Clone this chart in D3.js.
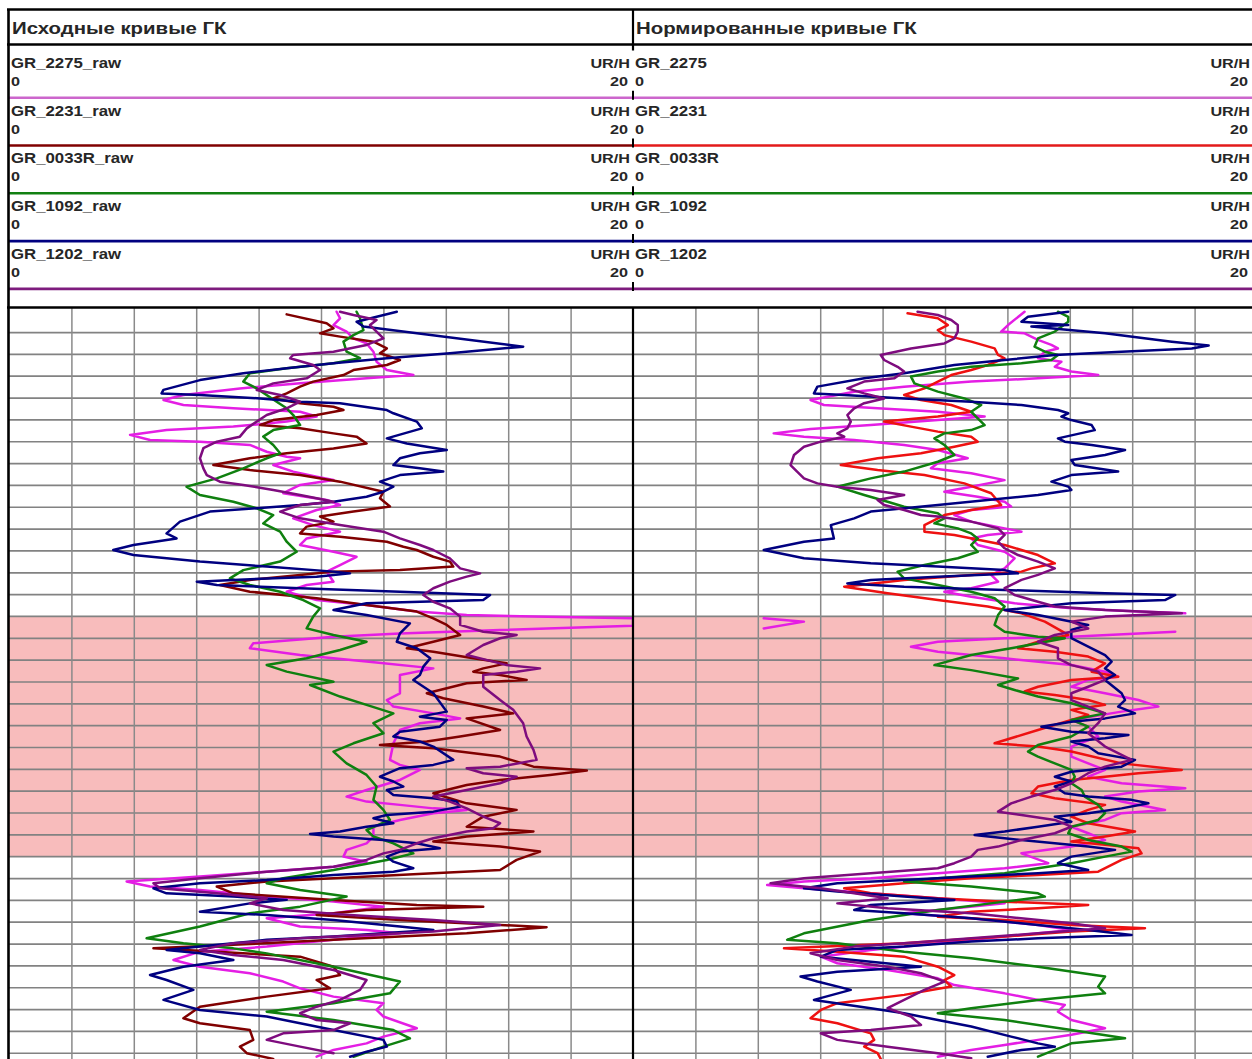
<!DOCTYPE html>
<html>
<head>
<meta charset="utf-8">
<script src="https://cdn.jsdelivr.net/npm/d3@7"></script>
<style>
  html, body { margin: 0; padding: 0; background: #fff; overflow: hidden; }
  svg { display: block; }
</style>
</head>
<body>
<svg id="chart" width="1252" height="1059"></svg>
<script>
// ---- Track titles, curve names, scales ----
const trackTitles = ["Исходные кривые ГК", "Нормированные кривые ГК"];
const rawCurveNames = ["GR_2275_raw", "GR_2231_raw", "GR_0033R_raw", "GR_1092_raw", "GR_1202_raw"];
const normCurveNames = ["GR_2275", "GR_2231", "GR_0033R", "GR_1092", "GR_1202"];
const curveUnit = "UR/H";
const scaleMin = 0;
const scaleMax = 20;
const scaleLabels = ["0", "20"];
const gridStep = 2;
const depthTop = 0;
const depthBottom = 34.3;
const depthStep = 1;
// highlighted interval (depth, m)
const zoneTop = 14;
const zoneBottom = 25;

// ---- Raw gamma-ray curves: [depth, value] ----
const gr2275Raw = [[0.07,10.5],[0.37,10.61],[0.68,10.4],[0.98,10.82],[1.29,11.04],[1.52,11.46],[1.9,11.68],[2.36,11.78],[2.74,12.11],[2.97,12.96],[3.12,11.46],[3.35,9.33],[3.58,7.4],[3.88,5.59],[4.11,4.95],[4.34,5.59],[4.49,7.19],[4.65,9.33],[4.87,9.86],[5.1,8.9],[5.33,7.19],[5.49,5.05],[5.71,3.88],[5.94,4.52],[6.02,6.12],[6.17,7.72],[6.48,8.26],[6.71,8.9],[6.78,9.33],[7.09,8.47],[7.39,9.11],[7.62,9.86],[7.77,10.4],[8.0,9.33],[8.38,8.79],[8.69,10.18],[8.92,10.61],[9.15,9.86],[9.53,9.11],[9.84,9.75],[10.14,10.61],[10.45,9.54],[10.75,9.33],[11.06,10.4],[11.29,11.14],[11.67,10.61],[11.97,10.18],[12.43,10.4],[12.58,9.54],[12.89,8.9],[13.27,9.86],[13.5,11.46],[13.8,13.07],[13.96,14.67],[14.03,16.81],[14.11,20],[14.3,20],[14.45,20],[14.64,15.74],[14.8,12.53],[14.95,10.4],[15.25,7.83],[15.48,7.72],[15.79,9.33],[16.09,11.46],[16.4,13.6],[16.7,12.53],[17.54,12.53],[17.85,12.11],[18.15,12.32],[18.46,13.6],[18.69,14.46],[18.91,13.17],[19.22,12.53],[19.83,12.32],[20.59,12.21],[20.82,12.53],[21.05,13.17],[21.51,12.53],[21.97,11.46],[22.27,10.82],[22.5,11.46],[22.65,12.53],[22.81,13.6],[22.88,14.67],[23.03,13.6],[23.34,12.53],[23.65,11.68],[24.1,11.68],[24.41,11.46],[24.71,10.82],[25.02,10.72],[25.25,11.46],[25.48,10.4],[25.71,8.26],[25.93,6.12],[26.16,3.77],[26.39,4.52],[26.55,6.12],[26.85,8.26],[27.08,10.4],[27.31,12.0],[27.61,10.4],[27.84,8.26],[28.22,9.33],[28.38,11.46],[28.53,12.53],[28.83,10.4],[29.14,8.26],[29.37,6.12],[29.75,5.27],[30.06,6.12],[30.36,7.72],[30.74,8.79],[31.05,9.33],[31.43,10.4],[31.73,12.0],[32.04,11.78],[32.34,12.0],[32.88,13.07],[33.26,12.0],[33.57,11.46],[33.87,10.4],[34.18,9.86]];

const gr2231Raw = [[0.19,8.9],[0.6,10.18],[0.83,10.4],[1.06,9.97],[1.21,10.61],[1.44,11.68],[1.75,12.11],[1.97,11.89],[2.28,12.53],[2.51,12.11],[2.74,11.04],[2.97,10.72],[3.27,9.75],[3.5,9.33],[3.81,8.9],[4.04,8.47],[4.26,9.33],[4.42,10.4],[4.57,10.72],[4.8,9.86],[5.03,8.47],[5.26,8.05],[5.41,9.33],[5.64,10.4],[5.79,11.14],[6.1,11.46],[6.33,10.4],[6.55,8.9],[6.78,7.72],[7.09,6.55],[7.32,7.72],[7.55,9.33],[7.85,10.61],[8.31,12.0],[8.61,11.89],[8.99,12.21],[9.22,11.04],[9.45,9.97],[9.68,10.4],[9.91,9.54],[10.22,9.33],[10.37,10.61],[10.6,12.11],[10.83,12.64],[10.98,13.07],[11.29,13.6],[11.51,14.13],[11.74,14.24],[11.9,12.53],[11.97,10.4],[12.12,9.33],[12.35,7.72],[12.58,6.76],[12.89,7.72],[13.19,9.86],[13.5,11.46],[13.8,13.07],[14.11,13.6],[14.41,14.03],[14.87,14.46],[15.18,13.6],[15.48,12.75],[15.64,13.6],[15.94,14.88],[16.17,15.95],[16.4,15.2],[16.55,14.88],[16.7,15.74],[16.93,16.59],[17.08,14.67],[17.54,13.39],[17.77,13.92],[18.15,15.2],[18.46,16.16],[18.69,14.67],[19.22,15.74],[19.52,14.46],[19.75,13.39],[19.91,11.89],[20.06,13.6],[20.44,15.74],[20.9,16.81],[21.08,18.52],[21.28,17.34],[21.51,15.74],[21.74,14.67],[22.12,13.6],[22.58,14.67],[22.88,16.27],[23.19,15.2],[23.65,14.67],[23.87,16.81],[24.1,14.67],[24.33,13.6],[24.56,15.74],[24.79,17.02],[25.17,16.27],[25.63,15.74],[25.78,13.6],[26.01,10.4],[26.16,8.26],[26.39,6.66],[26.7,7.19],[27.0,10.4],[27.23,13.07],[27.31,15.2],[27.46,11.46],[27.69,9.86],[27.92,12.53],[28.15,15.74],[28.25,17.23],[28.53,14.67],[28.83,10.4],[29.06,7.19],[29.22,4.63],[29.37,6.66],[29.6,9.33],[30.06,10.4],[30.44,10.61],[30.67,9.86],[31.05,10.29],[31.43,8.26],[31.89,6.12],[32.42,5.59],[32.65,6.12],[32.96,7.72],[33.41,7.83],[33.72,7.4],[34.02,7.62],[34.28,8.47]];

const gr0033RRaw = [[0.07,11.14],[0.37,11.25],[0.91,11.36],[1.14,11.04],[1.44,10.72],[1.9,10.82],[2.2,11.25],[2.43,10.4],[2.66,8.9],[2.89,7.72],[3.27,7.51],[3.58,7.94],[4.19,8.58],[4.49,8.9],[4.8,9.11],[5.26,9.33],[5.49,8.47],[5.79,8.15],[6.17,8.47],[6.55,8.69],[6.78,8.26],[7.24,7.51],[7.7,6.66],[8.08,5.69],[8.46,6.12],[8.77,7.19],[9.07,7.94],[9.38,8.47],[9.76,8.15],[10.14,8.69],[10.6,8.9],[11.06,9.22],[11.51,8.69],[11.9,7.51],[12.28,7.08],[12.58,7.72],[12.89,8.69],[13.27,9.43],[13.65,9.97],[14.03,9.75],[14.57,9.54],[14.87,10.4],[15.18,11.46],[15.56,10.61],[15.94,9.54],[16.25,8.26],[16.55,8.9],[17.01,10.4],[17.16,9.65],[17.69,10.61],[18.07,11.46],[18.46,12.32],[18.91,11.68],[19.37,12.0],[19.83,11.04],[20.21,10.4],[20.75,10.82],[21.28,11.46],[21.81,11.78],[22.42,11.68],[22.88,12.0],[23.34,12.21],[23.8,11.46],[24.1,11.68],[24.41,12.32],[24.87,12.96],[25.17,12.11],[25.63,10.4],[26.01,8.79],[26.24,8.26],[26.55,9.33],[26.85,10.82],[27.31,9.33],[27.61,7.72],[28.22,6.12],[28.76,4.41],[28.99,5.59],[29.22,7.19],[29.45,8.26],[30.06,10.4],[30.74,12.53],[31.28,12.21],[31.73,10.4],[32.12,8.26],[32.5,10.4],[32.96,12.32],[33.34,12.85],[33.72,12.0],[34.18,11.04]];

const gr1092Raw = [[0.07,12.43],[0.53,11.14],[0.75,11.36],[1.67,16.48],[1.97,14.13],[2.2,12.11],[2.43,10.4],[2.66,8.9],[2.89,7.51],[3.2,6.12],[3.65,4.95],[3.81,4.89],[3.88,6.12],[4.04,8.05],[4.19,9.33],[4.26,10.61],[4.57,12.11],[4.72,12.32],[5.1,13.07],[5.41,13.23],[5.87,12.11],[6.1,12.75],[6.4,14.03],[6.55,13.17],[6.78,12.53],[7.09,12.32],[7.24,13.17],[7.39,13.92],[7.55,12.53],[7.85,11.89],[8.08,12.32],[8.31,12.0],[8.54,11.46],[8.77,10.4],[8.92,9.33],[9.07,7.94],[9.22,6.44],[9.68,5.48],[10.22,5.05],[10.45,5.37],[10.75,3.99],[10.98,3.34],[11.21,3.99],[11.51,6.12],[11.74,8.26],[11.97,10.4],[12.05,10.93],[12.2,9.86],[12.35,7.19],[12.43,6.02],[12.58,6.66],[12.73,9.33],[12.89,12.53],[13.04,15.42],[13.27,15.2],[13.42,11.46],[13.73,10.4],[13.96,11.46],[14.34,12.85],[14.8,12.53],[15.18,12.43],[15.48,13.07],[15.94,13.5],[16.32,13.28],[16.7,13.17],[16.93,12.96],[17.54,13.6],[18.38,14.03],[18.61,13.17],[18.76,14.03],[19.07,13.81],[19.3,12.53],[19.52,12.32],[19.75,13.17],[19.98,13.6],[20.59,14.24],[20.82,13.6],[20.97,12.53],[21.36,11.89],[21.58,12.32],[21.81,12.64],[21.97,12.11],[22.2,12.32],[22.35,13.6],[22.5,14.35],[22.73,14.46],[22.96,13.6],[23.11,12.11],[23.26,11.68],[23.49,12.32],[23.65,11.46],[23.87,10.61],[23.98,9.65],[24.1,10.4],[24.26,12.0],[24.41,13.07],[24.64,13.81],[24.79,12.53],[25.02,12.11],[25.25,12.32],[25.55,12.96],[25.71,12.32],[25.86,10.4],[26.09,8.26],[26.24,6.12],[26.47,4.63],[26.7,5.05],[26.85,7.19],[27.0,8.9],[27.16,7.72],[27.54,6.12],[27.69,8.26],[27.92,10.4],[28.22,12.53],[28.38,13.6],[28.68,10.4],[28.83,8.26],[29.14,6.12],[29.29,5.05],[29.44,6.12],[29.75,7.19],[30.06,5.59],[30.44,4.52],[30.67,5.05],[31.12,5.91],[31.58,4.95],[32.04,6.12],[32.34,8.26],[32.65,9.33],[32.96,10.4],[33.41,12.0],[33.72,12.11],[33.95,11.46],[34.18,10.93]];

const gr1202Raw = [[0.07,10.61],[0.22,11.04],[0.45,11.78],[0.68,11.57],[0.98,11.78],[1.29,12.0],[1.59,11.46],[1.9,10.4],[2.05,9.11],[2.2,9.01],[2.51,9.75],[2.74,9.97],[3.12,9.54],[3.35,8.47],[3.65,7.94],[3.88,8.69],[4.19,9.33],[4.49,8.9],[4.8,8.26],[5.1,7.94],[5.41,7.62],[5.79,7.4],[6.02,6.66],[6.32,6.23],[6.78,6.12],[7.24,6.23],[7.55,6.34],[7.85,6.76],[8.0,7.51],[8.23,8.47],[8.46,9.33],[8.61,9.86],[8.77,10.4],[8.92,9.33],[9.22,8.69],[9.53,9.33],[9.84,10.61],[10.14,12.0],[10.45,12.53],[10.75,13.17],[10.98,13.6],[11.36,14.13],[11.82,14.46],[12.05,15.1],[12.2,14.67],[12.43,14.13],[12.73,13.6],[13.04,13.28],[13.35,13.6],[13.65,14.13],[14.03,14.46],[14.41,14.46],[14.72,15.2],[14.87,16.27],[15.02,15.74],[15.33,15.2],[15.79,14.67],[16.09,15.52],[16.25,15.95],[16.4,17.02],[16.55,16.27],[16.7,15.2],[17.24,15.2],[17.85,15.74],[18.3,16.16],[18.91,16.48],[19.52,16.59],[20.13,16.81],[20.59,16.91],[20.9,15.74],[20.97,14.67],[21.2,15.2],[21.36,16.27],[21.66,15.74],[21.97,14.67],[22.27,13.6],[22.5,14.13],[22.81,14.67],[23.19,15.2],[23.49,15.74],[23.72,15.52],[23.87,14.67],[24.18,13.6],[24.41,13.07],[24.71,12.53],[24.87,12.0],[25.17,11.46],[25.48,10.4],[25.71,8.26],[26.01,6.12],[26.24,4.63],[26.47,4.84],[26.7,6.66],[26.93,8.26],[27.16,7.72],[27.46,8.79],[27.69,10.93],[27.92,13.6],[28.15,15.74],[28.45,13.6],[28.61,11.46],[28.76,9.33],[28.99,7.19],[29.29,6.12],[29.52,7.19],[29.75,8.79],[30.21,10.4],[30.67,11.46],[31.12,11.25],[31.58,10.61],[31.89,9.86],[32.19,9.33],[32.5,9.86],[32.65,10.93],[32.96,10.4],[33.11,8.79],[33.41,8.26],[33.72,9.33],[34.02,10.4]];

// ---- Normalized gamma-ray curves: [depth, value] ----
const gr2275Norm = [[0.07,12.55],[0.68,12.02],[0.98,11.8],[1.06,12.55],[1.36,12.98],[1.59,13.41],[1.75,13.62],[1.9,13.2],[2.2,12.98],[2.36,13.73],[2.59,13.52],[2.81,14.05],[2.97,14.91],[3.12,12.98],[3.27,10.84],[3.5,8.69],[3.73,7.09],[4.11,5.69],[4.34,6.12],[4.49,7.84],[4.65,9.77],[4.87,11.27],[5.03,9.77],[5.26,7.62],[5.44,5.69],[5.64,4.51],[5.79,5.48],[5.94,7.09],[6.17,8.69],[6.4,9.77],[6.78,10.73],[7.01,9.77],[7.24,9.55],[7.47,10.84],[7.78,11.91],[8.08,10.84],[8.31,9.98],[8.54,11.05],[8.77,11.91],[8.99,12.12],[9.15,10.84],[9.38,10.3],[9.68,10.84],[9.99,11.91],[10.14,12.45],[10.29,11.37],[10.45,10.84],[10.75,11.05],[11.06,11.91],[11.36,12.23],[11.82,11.91],[12.12,11.48],[12.43,11.7],[12.73,10.84],[12.89,9.98],[13.12,10.84],[13.42,12.23],[13.65,14.05],[13.8,16.2],[13.88,17.7],[14.11,24.19],[14.26,25.48],[14.57,24.19],[14.72,17.38],[14.95,14.05],[15.02,11.91],[15.18,9.77],[15.41,8.91],[15.64,9.77],[15.94,11.91],[16.25,14.05],[16.55,15.13],[16.78,15.55],[16.93,14.59],[17.24,14.05],[17.54,15.13],[17.85,16.2],[18.15,16.84],[18.38,15.66],[18.76,14.05],[19.07,14.59],[19.52,14.91],[19.98,14.05],[20.44,14.05],[20.75,14.59],[21.05,15.13],[21.36,14.59],[21.66,15.66],[21.89,17.7],[22.04,16.2],[22.27,15.13],[22.5,15.66],[22.88,17.05],[23.03,15.66],[23.34,15.13],[23.65,14.05],[23.95,14.59],[24.26,15.13],[24.56,14.05],[24.87,12.45],[25.32,13.31],[25.55,11.91],[25.78,9.77],[26.01,7.62],[26.16,5.48],[26.32,4.3],[26.47,5.48],[26.7,7.62],[26.93,9.77],[27.16,11.91],[27.46,9.77],[27.61,8.69],[27.84,10.84],[28.15,12.98],[28.38,14.05],[28.68,11.91],[28.99,9.77],[29.29,7.62],[29.6,6.02],[29.9,6.55],[30.21,8.16],[30.59,9.77],[30.9,10.3],[31.28,11.91],[31.58,12.98],[31.81,13.84],[32.12,13.62],[32.5,14.05],[32.88,15.13],[33.18,14.05],[33.41,12.98],[33.64,11.91],[33.87,10.84],[34.18,9.77]];

const gr2231Norm = [[0.14,8.8],[0.37,9.77],[0.68,10.09],[0.91,9.77],[1.14,9.98],[1.44,10.84],[1.75,11.59],[2.05,11.7],[2.2,11.91],[2.51,11.37],[2.74,10.84],[2.97,10.2],[3.27,9.77],[3.58,9.34],[3.88,8.69],[4.11,9.23],[4.34,10.2],[4.65,10.84],[4.87,9.77],[5.1,8.05],[5.33,8.91],[5.56,9.77],[5.79,10.84],[6.02,11.05],[6.25,10.3],[6.55,9.23],[6.78,7.84],[7.09,6.66],[7.32,7.84],[7.55,9.34],[7.93,10.62],[8.38,11.48],[8.92,11.8],[9.15,10.84],[9.38,9.98],[9.84,9.34],[10.14,9.34],[10.29,10.3],[10.75,11.91],[11.21,12.98],[11.59,13.52],[11.82,12.77],[11.97,12.45],[12.12,10.84],[12.35,8.69],[12.66,6.77],[12.96,8.16],[13.27,9.77],[13.57,11.37],[13.88,12.45],[14.26,13.2],[14.87,13.95],[15.18,12.98],[15.48,12.34],[15.64,13.52],[15.86,14.59],[16.17,15.13],[16.55,14.7],[16.78,15.55],[16.93,14.05],[17.24,12.98],[17.46,12.55],[17.62,13.52],[17.85,14.59],[18.07,15.13],[18.3,14.05],[18.53,14.59],[18.76,14.05],[19.22,12.98],[19.83,11.59],[19.98,12.98],[20.21,14.05],[20.75,15.66],[21.05,17.59],[21.2,16.2],[21.36,15.13],[21.51,14.05],[21.81,12.98],[22.12,12.77],[22.35,13.52],[22.65,15.13],[22.88,14.59],[23.19,14.05],[23.49,14.59],[23.87,16.09],[24.1,15.13],[24.33,14.05],[24.48,15.13],[24.64,16.2],[24.87,16.3],[25.17,15.66],[25.71,14.91],[25.86,12.98],[26.01,10.84],[26.24,8.69],[26.47,6.77],[26.7,7.62],[26.93,9.77],[27.08,11.91],[27.23,14.59],[27.38,12.98],[27.54,10.84],[27.77,9.77],[27.92,11.91],[28.15,14.05],[28.3,16.41],[28.45,14.05],[28.68,11.91],[28.99,8.69],[29.22,4.84],[29.37,6.55],[29.6,8.69],[30.06,9.77],[30.44,10.3],[30.67,9.98],[30.97,10.2],[31.35,8.69],[31.73,6.55],[32.04,6.02],[32.42,5.69],[32.65,6.55],[33.11,7.62],[33.41,7.73],[33.72,7.41],[34.02,7.84],[34.28,7.94]];

const gr0033RNorm = [[0.07,13.62],[0.3,13.95],[0.53,13.95],[0.98,13.52],[1.29,12.98],[1.67,12.87],[1.9,13.2],[2.05,13.62],[2.28,13.41],[2.43,12.45],[2.59,10.84],[2.81,9.77],[3.04,8.91],[3.35,9.02],[3.73,9.77],[4.04,10.62],[4.34,11.16],[4.65,10.84],[4.95,11.05],[5.26,11.27],[5.49,10.84],[5.64,9.98],[5.87,9.66],[6.17,9.98],[6.63,10.3],[6.94,9.77],[7.39,8.69],[7.7,7.62],[8.08,6.55],[8.46,7.41],[8.77,8.16],[9.0,8.69],[9.3,9.77],[9.53,9.98],[9.76,9.66],[9.99,10.41],[10.22,10.84],[10.45,11.05],[10.75,10.84],[11.06,11.05],[11.36,10.41],[11.67,9.34],[11.97,8.48],[12.28,8.69],[12.58,9.77],[12.89,10.84],[13.19,11.59],[13.57,11.91],[13.96,11.7],[14.41,11.59],[14.72,11.91],[14.95,12.98],[15.02,13.84],[15.25,12.98],[15.48,12.12],[15.79,10.84],[16.25,9.66],[16.48,10.84],[16.86,12.34],[17.16,11.7],[17.39,12.23],[17.69,12.98],[18.0,14.05],[18.46,15.13],[18.76,14.05],[19.07,14.59],[19.52,14.05],[19.91,12.98],[20.21,12.66],[20.44,12.98],[20.75,13.52],[21.05,14.05],[21.36,14.16],[21.66,14.05],[21.97,14.38],[22.27,14.48],[22.65,14.91],[23.03,15.13],[23.34,14.91],[23.65,14.05],[23.95,13.95],[24.26,14.59],[24.56,15.66],[24.79,15.98],[25.02,15.13],[25.32,14.05],[25.55,12.98],[25.78,11.91],[26.01,9.77],[26.16,8.69],[26.39,10.84],[26.7,12.98],[26.85,13.2],[27.08,11.91],[27.46,9.77],[27.92,7.62],[28.53,5.48],[28.83,4.94],[28.99,6.55],[29.37,8.69],[29.67,10.84],[30.06,12.98],[30.51,15.13],[30.97,14.91],[31.28,15.13],[31.58,12.98],[31.96,10.84],[32.19,9.77],[32.5,11.91],[32.96,14.05],[33.34,15.77],[33.57,14.05],[33.87,13.52],[34.18,12.98]];

const gr1092Norm = [[0.07,13.95],[0.3,12.66],[0.53,12.45],[0.68,13.95],[0.75,12.77],[1.06,15.13],[1.44,17.27],[1.62,18.45],[1.75,17.91],[1.9,15.66],[2.05,13.52],[2.28,11.91],[2.51,10.3],[2.89,8.69],[3.12,7.41],[3.5,5.91],[3.81,5.8],[3.88,6.77],[4.04,8.69],[4.19,10.84],[4.34,12.45],[4.57,13.62],[4.72,13.95],[4.87,13.73],[5.03,14.05],[5.26,14.7],[5.49,14.8],[5.87,13.62],[6.02,13.84],[6.17,14.7],[6.4,15.77],[6.63,15.13],[6.86,14.05],[7.09,14.16],[7.39,15.55],[7.55,14.05],[7.85,13.41],[8.08,13.95],[8.23,14.05],[8.46,12.98],[8.69,11.37],[8.92,9.77],[9.22,7.62],[9.53,7.09],[9.84,6.34],[10.45,6.44],[10.6,5.48],[10.98,4.19],[11.36,5.48],[11.59,7.62],[11.74,9.77],[11.9,11.91],[12.05,12.34],[12.2,9.77],[12.35,7.62],[12.51,6.87],[12.66,8.69],[12.81,11.91],[12.96,15.13],[13.04,17.38],[13.27,17.05],[13.42,14.05],[13.73,11.91],[13.96,12.98],[14.41,14.59],[14.64,14.05],[15.02,14.05],[15.79,15.13],[16.09,15.34],[16.4,15.13],[16.7,15.45],[16.93,15.13],[17.54,15.66],[17.85,15.77],[18.15,15.55],[18.46,16.09],[18.69,15.13],[18.84,14.05],[19.07,13.09],[19.3,14.05],[19.45,15.88],[19.6,15.13],[19.75,14.05],[19.98,14.59],[20.29,14.91],[20.59,16.09],[20.9,15.66],[21.13,14.05],[21.36,13.52],[21.58,14.05],[21.81,13.52],[22.12,13.84],[22.27,14.59],[22.42,15.98],[22.58,16.52],[22.81,15.66],[23.03,14.59],[23.19,13.52],[23.42,14.05],[23.65,12.98],[23.87,11.91],[24.03,10.95],[24.18,11.91],[24.41,13.52],[24.56,14.59],[24.71,15.45],[25.02,14.05],[25.32,13.62],[25.63,14.59],[25.78,12.98],[25.93,10.84],[26.09,8.69],[26.24,6.55],[26.47,5.48],[26.62,6.55],[26.85,8.69],[27.0,10.3],[27.23,7.62],[27.46,7.09],[27.61,8.69],[27.84,10.84],[28.15,12.98],[28.38,14.59],[28.61,15.98],[28.76,12.98],[28.91,10.84],[29.14,8.69],[29.29,6.55],[29.6,6.02],[29.83,7.62],[30.06,9.23],[30.29,6.55],[30.51,5.37],[30.74,5.91],[31.12,6.98],[31.58,5.8],[31.96,7.62],[32.19,8.69],[32.5,9.77],[32.8,10.84],[33.26,12.12],[33.57,12.98],[33.72,13.52],[33.87,12.45],[34.18,11.37]];

const gr1202Norm = [[0.07,9.12],[0.22,9.77],[0.45,10.2],[0.68,10.41],[0.98,10.41],[1.29,10.3],[1.52,9.98],[1.75,8.91],[2.05,7.94],[2.28,8.05],[2.59,8.48],[2.81,8.69],[3.12,8.37],[3.27,7.41],[3.58,6.87],[3.81,7.41],[4.04,8.05],[4.26,7.41],[4.49,7.09],[4.8,6.87],[5.1,6.98],[5.41,6.87],[5.64,6.55],[5.79,6.77],[6.02,6.02],[6.25,5.48],[6.63,5.16],[7.09,5.05],[7.39,5.26],[7.7,5.48],[7.93,5.91],[8.08,6.55],[8.23,7.62],[8.46,8.69],[8.69,7.84],[8.92,8.05],[9.15,8.69],[9.38,9.23],[9.45,9.77],[9.68,10.84],[9.99,11.7],[10.29,11.91],[10.6,11.7],[10.9,11.91],[11.21,12.34],[11.51,12.98],[11.82,13.52],[12.12,12.98],[12.35,12.45],[12.73,11.91],[13.04,12.23],[13.35,12.98],[13.57,13.52],[13.73,15.13],[13.88,17.59],[14.03,15.13],[14.26,14.05],[14.57,14.59],[14.87,13.52],[15.18,12.98],[15.48,13.62],[15.94,13.62],[16.25,14.05],[16.55,14.91],[16.93,15.13],[17.24,14.59],[17.54,14.05],[17.85,14.05],[18.15,14.59],[18.46,15.13],[18.91,14.91],[19.37,14.59],[19.98,15.13],[20.59,15.98],[20.9,15.13],[21.2,14.59],[21.66,14.05],[21.97,13.52],[22.27,12.77],[22.58,12.12],[22.96,11.7],[23.11,12.45],[23.34,13.52],[23.65,14.05],[23.95,13.52],[24.26,12.45],[24.56,11.7],[24.71,11.05],[25.02,10.84],[25.32,10.3],[25.55,9.77],[25.78,7.62],[26.01,5.48],[26.24,4.41],[26.47,6.02],[26.7,7.09],[26.93,8.16],[27.16,6.55],[27.38,8.16],[27.61,10.84],[28.07,14.05],[28.3,15.13],[28.53,12.98],[28.76,10.84],[28.99,8.69],[29.14,7.09],[29.44,5.69],[29.75,6.55],[30.06,8.16],[30.36,9.23],[30.74,9.98],[31.12,9.34],[31.58,8.69],[31.96,8.16],[32.34,8.91],[32.73,9.23],[32.96,7.62],[33.11,6.02],[33.41,6.55],[33.72,8.16],[34.02,9.77],[34.25,10.84]];

// ---- Styling ----
const rawColors  = ["#e41ee4", "#800000", "#0f800f", "#000080", "#7e0c7e"];
const normColors = ["#e41ee4", "#ee1111", "#0f800f", "#000080", "#7e0c7e"];
const rawHeaderColors  = ["#cc66cc", "#800000", "#128012", "#000080", "#7e1c7e"];
const normHeaderColors = ["#cc66cc", "#e31a1a", "#128012", "#000080", "#7e1c7e"];

const W = 1252, H = 1059;
const FONT = "Arial, 'Liberation Sans', Helvetica, sans-serif";
const TEXT_STRETCH = 1.2;
const TEXT_COLOR = "#262626";

const frameLeft = 9;
const trackWidth = 624;
const frameTop = 9;
const titleBottom = 44.5;
const firstHeaderLine = 97.7;
const headerRowH = 47.8;
const bodyTop = 307.5;
const gridTop = 310.2;
const rowPx = 21.84;

const svg = d3.select("#chart");
svg.append("rect").attr("width", W).attr("height", H).attr("fill", "#fff");

const y = d3.scaleLinear()
  .domain([depthTop, depthBottom])
  .range([gridTop, gridTop + rowPx * (depthBottom - depthTop)]);

const tracks = [
  { x0: frameLeft, title: trackTitles[0], names: rawCurveNames,
    curves: [gr2275Raw, gr2231Raw, gr0033RRaw, gr1092Raw, gr1202Raw],
    colors: rawColors, headerColors: rawHeaderColors },
  { x0: frameLeft + trackWidth, title: trackTitles[1], names: normCurveNames,
    curves: [gr2275Norm, gr2231Norm, gr0033RNorm, gr1092Norm, gr1202Norm],
    colors: normColors, headerColors: normHeaderColors }
];
tracks.forEach(t => {
  t.x = d3.scaleLinear().domain([scaleMin, scaleMax]).range([t.x0, t.x0 + trackWidth]);
});

// stretched bold header text
function label(g, str, x, yb, size, anchor) {
  g.append("text")
    .attr("transform", `translate(${x},${yb}) scale(${TEXT_STRETCH},1)`)
    .attr("text-anchor", anchor || "start")
    .attr("font-family", FONT)
    .attr("font-weight", "bold")
    .attr("font-size", size)
    .attr("fill", TEXT_COLOR)
    .text(str);
}

// ---- Body: highlighted interval ----
const body = svg.append("g");
body.append("rect")
  .attr("x", frameLeft)
  .attr("y", y(zoneTop))
  .attr("width", W - frameLeft)
  .attr("height", y(zoneBottom) - y(zoneTop))
  .attr("fill", "#f8bcbc");

// ---- Grid: depth lines ----
const depthTicks = d3.range(depthTop + depthStep, depthBottom, depthStep);
const yGrid = body.append("g")
  .attr("transform", `translate(${frameLeft},0)`)
  .call(d3.axisLeft(y).tickValues(depthTicks).tickSize(-(W - frameLeft)).tickFormat(""));
yGrid.select(".domain").remove();
yGrid.selectAll(".tick line").attr("stroke", "#828282").attr("stroke-width", 1.7);

// ---- Grid: value lines per track ----
tracks.forEach(t => {
  const g = body.append("g")
    .attr("transform", `translate(0,${bodyTop})`)
    .call(d3.axisBottom(t.x)
      .tickValues(d3.range(scaleMin + gridStep, scaleMax, gridStep))
      .tickSize(H - bodyTop)
      .tickFormat(""));
  g.select(".domain").remove();
  g.selectAll(".tick line").attr("stroke", "#8a8a8a").attr("stroke-width", 1.5);
});

// ---- Curves ----
const defs = svg.append("defs");
tracks.forEach((t, ti) => {
  const clipId = "clip-track-" + ti;
  defs.append("clipPath").attr("id", clipId)
    .append("rect")
    .attr("x", t.x0).attr("y", bodyTop)
    .attr("width", trackWidth).attr("height", H - bodyTop);

  const line = d3.line()
    .defined(d => d[1] <= scaleMax)
    .x(d => t.x(d[1]))
    .y(d => y(d[0]));
  // values past the right edge wrap back into the track
  const wrapLine = d3.line()
    .defined(d => d[1] > scaleMax)
    .x(d => t.x(d[1] - (scaleMax - scaleMin)))
    .y(d => y(d[0]));

  const g = svg.append("g").attr("clip-path", `url(#${clipId})`);
  t.curves.forEach((data, ci) => {
    [line, wrapLine].forEach(gen => {
      g.append("path")
        .datum(data)
        .attr("d", gen)
        .attr("fill", "none")
        .attr("stroke", t.colors[ci])
        .attr("stroke-width", 2.5)
        .attr("stroke-linejoin", "round")
        .attr("stroke-linecap", "round");
    });
  });
});

// ---- Header ----
const head = svg.append("g");
tracks.forEach(t => {
  const rightEdge = Math.min(t.x0 + trackWidth - 3, W - 2);
  label(head, t.title, t.x0 + 3, 33.5, 17);
  t.names.forEach((name, i) => {
    const ly = firstHeaderLine + headerRowH * i;
    head.append("line")
      .attr("x1", t.x0).attr("x2", t.x0 + trackWidth)
      .attr("y1", ly).attr("y2", ly)
      .attr("stroke", t.headerColors[i]).attr("stroke-width", 2.6);
    label(head, name, t.x0 + 2, ly - 30, 14);
    label(head, scaleLabels[0], t.x0 + 2, ly - 12, 13.5);
    label(head, curveUnit, rightEdge, ly - 30, 13.5, "end");
    label(head, scaleLabels[1], rightEdge - 2, ly - 12, 13.5, "end");
  });
});

// ---- Frame and separators ----
const frame = svg.append("g").attr("stroke", "#000");
frame.append("line").attr("x1", 7).attr("x2", W).attr("y1", frameTop + 0.5).attr("y2", frameTop + 0.5).attr("stroke-width", 2.6);
frame.append("line").attr("x1", 7).attr("x2", W).attr("y1", titleBottom).attr("y2", titleBottom).attr("stroke-width", 2.6);
frame.append("line").attr("x1", 7).attr("x2", W).attr("y1", bodyTop).attr("y2", bodyTop).attr("stroke-width", 2.6);
frame.append("line").attr("x1", frameLeft - 0.5).attr("x2", frameLeft - 0.5).attr("y1", frameTop).attr("y2", H).attr("stroke-width", 2.6);

const divX = frameLeft + trackWidth;
frame.append("line").attr("x1", divX).attr("x2", divX).attr("y1", frameTop).attr("y2", titleBottom + 6).attr("stroke-width", 2.2);
frame.append("line").attr("x1", divX).attr("x2", divX).attr("y1", bodyTop).attr("y2", H).attr("stroke-width", 2.2);
normCurveNames.forEach((_, i) => {
  const ly = firstHeaderLine + headerRowH * i;
  frame.append("line").attr("x1", divX).attr("x2", divX)
    .attr("y1", ly - 7).attr("y2", ly + 2).attr("stroke-width", 2);
});
</script>
</body>
</html>
